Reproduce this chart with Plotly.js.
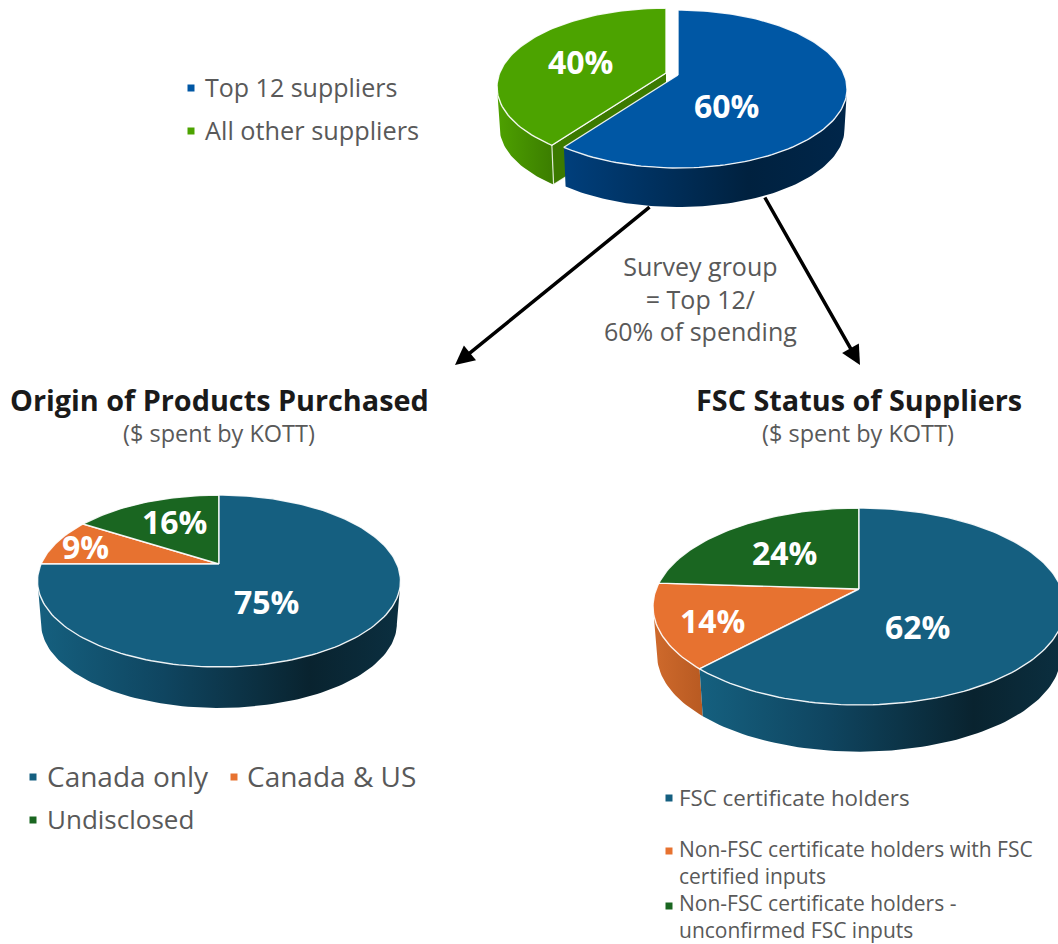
<!DOCTYPE html>
<html><head><meta charset="utf-8">
<script src="https://cdn.plot.ly/plotly-3.0.1.min.js"></script>
<style>html,body{margin:0;padding:0;background:#fff}#c{width:1058px;height:944px}</style>
</head><body><div id="c"></div>
<script>
// ---- data ----
const spendLabels = ["Top 12 suppliers", "All other suppliers"];
const spendValues = [60, 40];
const originLabels = ["Canada only", "Canada & US", "Undisclosed"];
const originValues = [75, 9, 16];
const fscLabels = ["FSC certificate holders", "Non-FSC certificate holders with FSC<br>certified inputs", "Non-FSC certificate holders -<br>unconfirmed FSC inputs"];
const fscValues = [62, 14, 24];

// ---- styling / geometry (pixels on a 1058x944 axis) ----
const FONT = '"Open Sans", sans-serif';
const GREY = '#595959';
const teal = {top:'#155f80', side:[[0,'#15607f'],[0.35,'#0f4560'],[0.75,'#09232f'],[1,'#0b2f40']]};
const orange = {top:'#e77230', side:[[0,'#cf6a2c'],[1,'#b85a22']]};
const forest = {top:'#1a6621', side:[[0,'#1a6621'],[1,'#0f4a15']]};
const blue = {top:'#0057a4', side:[[0,'#003f7c'],[0.65,'#00213f'],[1,'#00264a']]};
const green = {top:'#4ca300', side:[[0,'#4ea100'],[1,'#3b7d00']], cut:'#3c7a00'};

const pies = [
 {values:spendValues, colors:[blue,green], cx:678, cy:75, up:65, down:93, rx:169, depth:40.4, shrink:.985,
  offsets:[[0,0],[-12,-2]], drawOrder:[1,0],
  labels:[[726,105],[580,61]], labelSize:32},
 {values:originValues, colors:[teal,orange,forest], cx:219, cy:564, up:69, down:103, rx:181.5, depth:43, shrink:.98,
  offsets:[[0,0],[0,0],[0,0]], drawOrder:[1,2,0],
  labels:[[266,601],[85,546],[174,521]], labelSize:32},
 {values:fscValues, colors:[teal,orange,forest], cx:859, cy:589, up:81, down:116, rx:206, depth:49, shrink:.98,
  offsets:[[0,0],[0,0],[0,0]], drawOrder:[1,2,0],
  labels:[[917,626],[712,620],[784,552]], labelSize:32}
];

const traces = [];
const annotations = [];

function projector(p){
  // circle -> perspective ellipse, the apex stays off the ellipse centre
  const k = (p.up - p.down)/(p.up + p.down);
  const a = p.up*(1-k);
  const c = p.rx*Math.sqrt(1-k*k);
  return {k, at(tDeg){
    const t = tDeg*Math.PI/180, u = Math.sin(t), v = -Math.cos(t), w = 1+k*v;
    return [c*u/w, a*v/w];
  }};
}
function arc(P, t0, t1){
  const n = Math.max(2, Math.ceil(Math.abs(t1-t0)/1.5)), out=[];
  for(let i=0;i<=n;i++) out.push(P.at(t0+(t1-t0)*i/n));
  return out;
}
function poly(xs, ys, extra){
  traces.push(Object.assign({type:'scatter', mode:'lines', x:xs, y:ys, fill:'toself',
    hoverinfo:'skip', showlegend:false, line:{width:0}}, extra));
}
pies.forEach(p=>{
  const P = projector(p);
  const total = p.values.reduce((s,v)=>s+v,0);
  let acc = 0;
  const spans = p.values.map(v=>{const s=[acc/total*360,(acc+v)/total*360]; acc+=v; return s;});
  const tR = Math.acos(P.k)*180/Math.PI, tL = 360-tR;
  p.drawOrder.forEach(i=>{
    const [t0,t1] = spans[i], [ox,oy] = p.offsets[i], col = p.colors[i];
    const X = d=>p.cx+ox+d, Y = d=>p.cy+oy+d;
    // outer wall
    const a0=Math.max(t0,tR), a1=Math.min(t1,tL);
    if(a1>a0){
      const rim=arc(P,a0,a1);
      const xs=rim.map(q=>X(q[0])).concat(rim.slice().reverse().map(q=>X(q[0]*p.shrink)));
      const ys=rim.map(q=>Y(q[1])).concat(rim.slice().reverse().map(q=>Y(q[1]*p.shrink+p.depth)));
      poly(xs,ys,{fillgradient:{type:'horizontal',colorscale:col.side,start:Math.min(...xs),stop:Math.max(...xs)}});
    }
    // cut face of an exploded slice
    if(col.cut){
      const q=P.at(t0);
      poly([X(0),X(q[0]),X(q[0]*p.shrink),X(0)],[Y(0),Y(q[1]),Y(q[1]*p.shrink+p.depth),Y(p.depth)],
           {fillcolor:col.cut, line:{color:'rgba(255,255,255,.8)',width:1.2}});
    }
  });
  p.drawOrder.forEach(i=>{
    const [t0,t1] = spans[i], [ox,oy] = p.offsets[i], col = p.colors[i];
    const rim=arc(P,t0,t1);
    poly([p.cx+ox].concat(rim.map(q=>p.cx+ox+q[0]),[p.cx+ox]),
         [p.cy+oy].concat(rim.map(q=>p.cy+oy+q[1]),[p.cy+oy]),
         {fillcolor:col.top, line:{color:'rgba(255,255,255,.9)',width:1.4}});
    annotations.push({x:p.labels[i][0],y:p.labels[i][1],text:'<b>'+p.values[i]+'%</b>',showarrow:false,
      font:{family:FONT,size:p.labelSize,color:'#fff'},xanchor:'center',yanchor:'middle'});
  });
});

function label(x,y,text,size,color,anchor){
  annotations.push({x,y,text,showarrow:false,xanchor:anchor||'left',yanchor:'middle',borderpad:0,
    font:{family:FONT,size,color:color||GREY},align:anchor==='center'?'center':'left'});
}
function key(x,y,color,name){
  traces.push({type:'scatter',mode:'markers',x:[x],y:[y],name,hoverinfo:'name',showlegend:false,
    marker:{symbol:'square',size:7,color}});
}
key(191,88,blue.top,spendLabels[0]);  label(204,87,spendLabels[0],25);
key(191,131,green.top,spendLabels[1]); label(204,130,spendLabels[1],25.3);
key(33,777,teal.top,originLabels[0]);  label(46,776,originLabels[0],28);
key(234,777,orange.top,originLabels[1]); label(246,776,originLabels[1],28);
key(33,820,forest.top,originLabels[2]); label(46,819,originLabels[2],26);
key(669,798,teal.top,fscLabels[0]); label(678,797,fscLabels[0],22.3);
key(669,851,orange.top,fscLabels[1]); label(678,862,fscLabels[1],21);
key(669,906,forest.top,fscLabels[2]); label(678,916.5,fscLabels[2],21);

label(219,399,'<b>Origin of Products Purchased</b>',28.8,'#1a1a1a','center');
label(218.5,433,'($ spent by KOTT)',23.5,GREY,'center');
label(858.5,399,'<b>FSC Status of Suppliers</b>',28.8,'#1a1a1a','center');
label(858,433,'($ spent by KOTT)',23.5,GREY,'center');
label(700,298,'Survey group<br>= Top 12/<br>60% of spending',25,GREY,'center');

[[651,206,455,365],[764,196,860,365]].forEach(a=>{
  annotations.push({x:a[2],y:a[3],ax:a[0],ay:a[1],axref:'x',ayref:'y',xref:'x',yref:'y',text:'',
    showarrow:true,arrowhead:2,arrowsize:1.1,arrowwidth:3.5,arrowcolor:'#000'});
});

annotations.forEach(a=>{a.xref='x';a.yref='y';});
Plotly.newPlot('c',traces,{
  width:1058,height:944,margin:{l:0,r:0,t:0,b:0},paper_bgcolor:'#fff',plot_bgcolor:'#fff',showlegend:false,
  xaxis:{range:[0,1058],visible:false,fixedrange:true},
  yaxis:{range:[944,0],visible:false,fixedrange:true},
  annotations
},{displayModeBar:false,staticPlot:true});
</script></body></html>
